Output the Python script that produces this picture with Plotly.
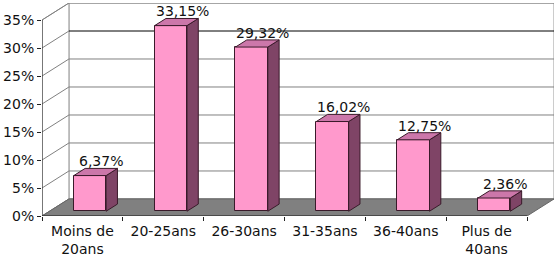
import plotly.graph_objects as go

CATS = ["Moins de<br>20ans", "20-25ans", "26-30ans", "31-35ans", "36-40ans", "Plus de<br>40ans"]
VALUES = [6.37, 33.15, 29.32, 16.02, 12.75, 2.36]
LABELS = ["6,37%", "33,15%", "29,32%", "16,02%", "12,75%", "2,36%"]
YTICKS = [0, 5, 10, 15, 20, 25, 30, 35]
YTICKTEXT = ["0%", "5%", "10%", "15%", "20%", "25%", "30%", "35%"]

# 3D projection parameters
DX = 1 / 3.0      # depth offset in category units
DY = 3.04         # depth offset in % units
F0, F1 = 0.28, 0.70   # bar front/back depth fraction
BW = 0.4
YMAX = 35
N = len(CATS)

FRONT = "#FF99CC"
SIDE = "#7F4466"
TOP = "#CC77AA"
EDGE = "#3a1a2a"
FONT = dict(family="DejaVu Sans, Liberation Sans, sans-serif", size=14, color="#111111")

fig = go.Figure()

# front faces
fig.add_trace(go.Bar(
    x=[i + F0 * DX for i in range(N)], y=VALUES, base=F0 * DY, width=BW,
    marker=dict(color=FRONT, line=dict(color=EDGE, width=1)),
    hoverinfo="skip", showlegend=False))

ddx = (F1 - F0) * DX
ddy = (F1 - F0) * DY
for i, v in enumerate(VALUES):
    x0 = i + F0 * DX - BW / 2
    x1 = x0 + BW
    b0 = F0 * DY
    t0 = b0 + v
    # side face
    fig.add_trace(go.Scatter(
        x=[x1, x1, x1 + ddx, x1 + ddx, x1], y=[b0, t0, t0 + ddy, b0 + ddy, b0],
        mode="lines", fill="toself", fillcolor=SIDE, line=dict(color=EDGE, width=1),
        hoverinfo="skip", showlegend=False))
    # top face
    fig.add_trace(go.Scatter(
        x=[x0, x1, x1 + ddx, x0 + ddx, x0], y=[t0, t0, t0 + ddy, t0 + ddy, t0],
        mode="lines", fill="toself", fillcolor=TOP, line=dict(color=EDGE, width=1),
        hoverinfo="skip", showlegend=False))
    fig.add_annotation(x=x0 + ddx + BW / 2, y=t0 + ddy, text=LABELS[i], showarrow=False,
                       yanchor="bottom", yshift=-3, font=FONT)

shapes = []
L = -0.5
R = N - 0.5
# back wall
shapes.append(dict(type="rect", x0=L + DX, x1=R + DX, y0=DY, y1=YMAX + DY,
                   line=dict(color="#999999", width=1), fillcolor="white", layer="below"))
# left wall
shapes.append(dict(type="path",
                   path=f"M {L},0 L {L + DX},{DY} L {L + DX},{YMAX + DY} L {L},{YMAX} Z",
                   line=dict(color="#999999", width=1), fillcolor="white", layer="below"))
for t in YTICKS:
    col = "#000000" if t == 30 else "#808080"
    shapes.append(dict(type="line", x0=L + DX, x1=R + DX, y0=t + DY, y1=t + DY,
                       line=dict(color=col, width=1), layer="below"))
    shapes.append(dict(type="line", x0=L, x1=L + DX, y0=t, y1=t + DY,
                       line=dict(color="#808080", width=1), layer="below"))
# floor
shapes.append(dict(type="path",
                   path=f"M {L},0 L {R},0 L {R + DX},{DY} L {L + DX},{DY} Z",
                   line=dict(color="#666666", width=1), fillcolor="#808080", layer="below"))
# front axes
shapes.append(dict(type="line", x0=L, x1=R, y0=0, y1=0, line=dict(color="#222222", width=1)))
shapes.append(dict(type="line", x0=L, x1=L, y0=0, y1=YMAX, line=dict(color="#222222", width=1)))

fig.update_layout(
    width=558, height=262,
    margin=dict(l=40, r=4, t=3, b=46),
    paper_bgcolor="white", plot_bgcolor="white",
    shapes=shapes, font=FONT, bargap=0,
    xaxis=dict(range=[L, R + DX], tickmode="array", tickvals=list(range(N)), ticktext=CATS,
               showgrid=False, zeroline=False, showline=False, ticks="",
               ticklabelstandoff=5,
               minor=dict(tickmode="array", tickvals=[i - 0.5 for i in range(N + 1)],
                          ticks="outside", ticklen=4, tickcolor="#222222", showgrid=False),
               tickfont=FONT, fixedrange=True),
    yaxis=dict(range=[0, YMAX + DY], tickmode="array", tickvals=YTICKS, ticktext=YTICKTEXT,
               showgrid=False, zeroline=False, showline=False, ticks="outside", ticklen=4,
               tickcolor="#222222", tickfont=FONT, fixedrange=True),
)

fig.write_html("out.html")
